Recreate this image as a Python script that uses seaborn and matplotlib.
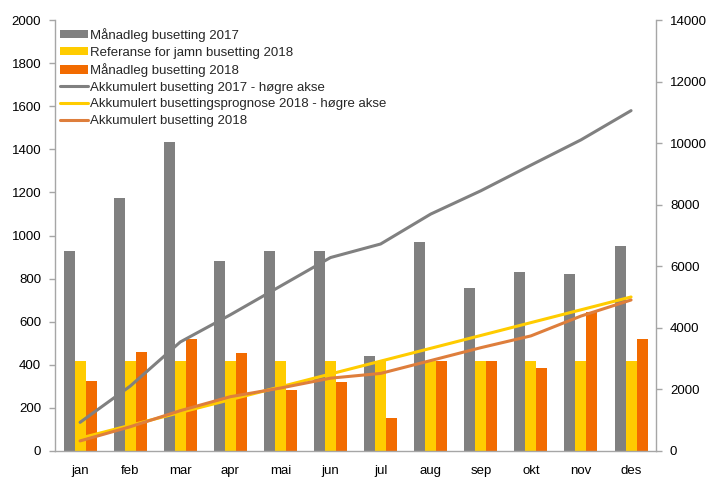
import numpy as np
import pandas as pd
import seaborn as sns
from matplotlib import pyplot as plt
from matplotlib.lines import Line2D
from matplotlib.patches import Patch

months = ["jan", "feb", "mar", "apr", "mai", "jun", "jul", "aug", "sep", "okt", "nov", "des"]

# monthly values (left axis)
monthly_2017 = [930, 1176, 1435, 884, 930, 930, 440, 972, 756, 833, 822, 950]
reference_2018 = [417, 417, 417, 417, 417, 417, 417, 417, 417, 417, 417, 417]
monthly_2018 = [327, 460, 522, 455, 281, 321, 154, 418, 418, 383, 645, 522]

# accumulated values (right axis)
accum_2017 = [930, 2106, 3541, 4425, 5355, 6285, 6725, 7697, 8453, 9286, 10108, 11058]
accum_forecast_2018 = [417, 834, 1251, 1668, 2085, 2502, 2919, 3336, 3753, 4170, 4587, 5004]
accum_2018 = [327, 787, 1309, 1764, 2045, 2366, 2520, 2938, 3356, 3739, 4384, 4906]

bar_labels = ["Månadleg busetting 2017", "Referanse for jamn busetting 2018", "Månadleg busetting 2018"]
line_labels = ["Akkumulert busetting 2017 - høgre akse",
               "Akkumulert busettingsprognose 2018 - høgre akse",
               "Akkumulert busetting 2018"]

bar_colors = ["#808080", "#FFCC00", "#F26B00"]
line_colors = ["#808080", "#FFCC00", "#DE7E3C"]

sns.set_theme(style="white")
plt.rcParams['font.family'] = ['Liberation Sans', 'DejaVu Sans']
plt.rcParams['font.size'] = 9

bars = pd.DataFrame({
    "month": months * 3,
    "value": monthly_2017 + reference_2018 + monthly_2018,
    "series": [bar_labels[0]] * 12 + [bar_labels[1]] * 12 + [bar_labels[2]] * 12,
})
lines = pd.DataFrame({
    "pos": list(range(len(months))) * 3,
    "value": accum_2017 + accum_forecast_2018 + accum_2018,
    "series": [line_labels[0]] * 12 + [line_labels[1]] * 12 + [line_labels[2]] * 12,
})

fig = plt.figure(figsize=(7.08, 4.78), dpi=100)
ax = fig.add_axes([0.0777, 0.0565, 0.849, 0.9015])

sns.barplot(data=bars, x="month", y="value", hue="series", order=months, hue_order=bar_labels,
            palette=bar_colors, width=0.66, gap=0, saturation=1, linewidth=0, edgecolor="none",
            ax=ax, legend=False)

ax2 = ax.twinx()
sns.lineplot(data=lines, x="pos", y="value", hue="series", hue_order=line_labels,
             palette=line_colors, linewidth=2.2, ax=ax2, legend=False)

ax.set_xlim(-0.5, 11.5)
ax.set_ylim(0, 2000)
ax.set_yticks(np.arange(0, 2001, 200))
ax2.set_ylim(0, 14000)
ax2.set_yticks(np.arange(0, 14001, 2000))
ax.set_xlabel("")
ax.set_ylabel("")
ax2.set_xlabel("")
ax2.set_ylabel("")

spine_color = "#A6A6A6"
for a in (ax, ax2):
    for side in ("left", "right", "bottom"):
        a.spines[side].set_color(spine_color)
        a.spines[side].set_linewidth(1.0)
    a.spines["top"].set_visible(False)
ax.spines["right"].set_visible(False)
ax2.spines["left"].set_visible(False)
ax2.spines["bottom"].set_visible(False)

ax.set_xticks(range(len(months)))
ax.set_xticklabels(months)
ax.set_xticks(np.arange(-0.5, 12, 1), minor=True)
ax.tick_params(axis="x", which="major", length=0, pad=10, labelsize=9.5, colors="black")
ax.tick_params(axis="x", which="minor", length=4, width=1, color=spine_color, direction="out")
ax.tick_params(axis="y", length=4, width=1, color=spine_color, direction="out", left=True,
               pad=6, labelsize=9.5, labelcolor="black")
ax2.tick_params(axis="y", length=4, width=1, color=spine_color, direction="out", right=True,
                pad=6, labelsize=9.5, labelcolor="black")

handles = [Patch(facecolor=c, edgecolor="none") for c in bar_colors]
handles += [Line2D([0], [0], color=c, linewidth=2.2) for c in line_colors]
ax2.legend(handles, bar_labels + line_labels, loc="upper left", bbox_to_anchor=(-0.005, 1.0),
           frameon=False, fontsize=9.5, handlelength=2.1, handleheight=0.6, handletextpad=0.15,
           labelspacing=0.35, borderaxespad=0.2)

fig.savefig("out.png", dpi=100)
